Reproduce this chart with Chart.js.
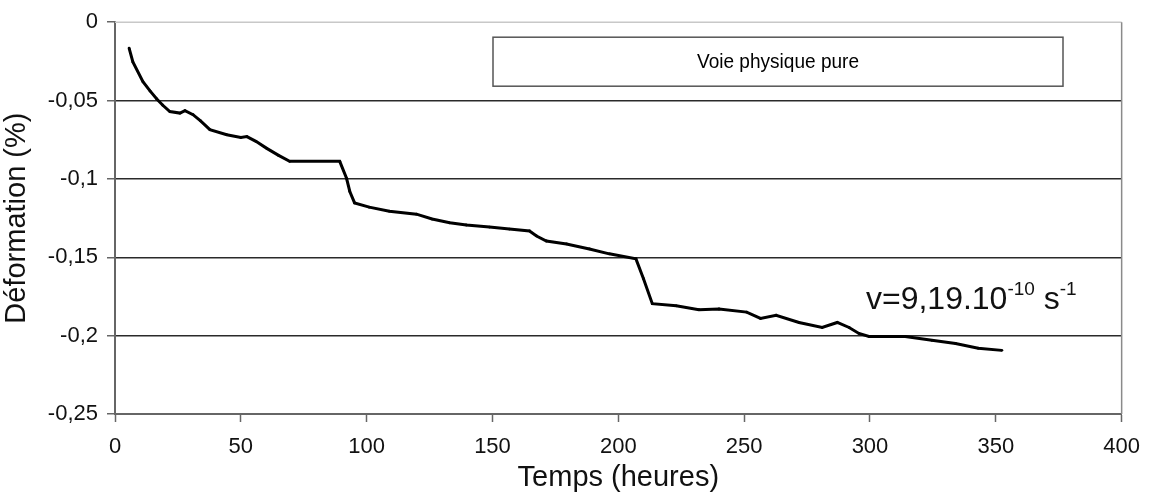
<!DOCTYPE html>
<html lang="fr">
<head>
  <meta charset="UTF-8" />
  <title>Voie physique pure</title>
  <script src="https://cdn.jsdelivr.net/npm/chart.js"></script>
  <style>
    html, body { margin: 0; padding: 0; background: #fff; }
    .chart-wrapper { width: 1152px; height: 500px; }
  </style>
</head>
<body>
<div class="chart-wrapper">
  <canvas id="deformChart" width="1152" height="500"></canvas>
</div>

<script>
  // temps (heures) et déformation (%)
  const temps = [5.6, 7.1, 11.1, 14, 16.6, 19, 21.8, 25.8, 27.8, 31, 34, 37.7, 44.4, 50, 52.4, 56, 60.3, 65, 69.4,
    89.3, 92, 93.3, 95.2, 101, 109, 119.8, 126, 133, 139.6, 148.8, 156.7, 164.7, 167.5, 171.4, 179.4, 188.5,
    196.4, 207, 210, 213.5, 223, 232, 240, 251, 256.5, 262.7, 271.8, 281, 287, 291.7, 295.6, 299.6, 314,
    324.6, 334, 343, 352.4];
  const deformation = [-0.0165, -0.0254, -0.038, -0.044, -0.049, -0.053, -0.057, -0.058, -0.0565, -0.059, -0.063,
    -0.0686, -0.0718, -0.0735, -0.073, -0.076, -0.0805, -0.085, -0.0888,
    -0.0888, -0.0996, -0.108, -0.1153, -0.118, -0.1206, -0.1225, -0.1256, -0.128, -0.1294, -0.1307, -0.132,
    -0.1332, -0.1364, -0.1396, -0.1415, -0.1447, -0.1478, -0.151, -0.1637, -0.1796, -0.181, -0.1834, -0.183,
    -0.185, -0.189, -0.187, -0.1916, -0.1948, -0.1916, -0.1948, -0.1986, -0.2005, -0.2005,
    -0.203, -0.205, -0.208, -0.2094];
  const yTicks = [0, -0.05, -0.1, -0.15, -0.2, -0.25];
  const yTickLabels = ['0', '-0,05', '-0,1', '-0,15', '-0,2', '-0,25'];
  const xTicks = [0, 50, 100, 150, 200, 250, 300, 350, 400];
  const legendText = 'Voie physique pure';

  const police = "'Liberation Sans', Arial, sans-serif";

  const points = temps.map((t, i) => ({ x: t, y: deformation[i] }));

  // cadre gris, boîte de légende et vitesse
  const decorPlugin = {
    id: 'decor',
    beforeDatasetsDraw(chart) {
      const { ctx, chartArea: a } = chart;
      ctx.save();
      ctx.strokeStyle = '#c8c8c8';
      ctx.lineWidth = 1.5;
      ctx.beginPath();
      ctx.moveTo(a.left, a.top);
      ctx.lineTo(a.right, a.top);
      ctx.stroke();
      ctx.strokeStyle = '#8a8a8a';
      ctx.beginPath();
      ctx.moveTo(a.right, a.top);
      ctx.lineTo(a.right, a.bottom);
      ctx.stroke();
      ctx.restore();
    },
    afterDatasetsDraw(chart) {
      const { ctx, chartArea: a, scales } = chart;
      ctx.save();
      // boîte
      const bx = a.left + 378, by = a.top + 15, bw = 570, bh = 49;
      ctx.fillStyle = '#fff';
      ctx.fillRect(bx, by, bw, bh);
      ctx.strokeStyle = '#555';
      ctx.lineWidth = 1.5;
      ctx.strokeRect(bx, by, bw, bh);
      ctx.fillStyle = '#000';
      ctx.font = '20px ' + police;
      ctx.textAlign = 'center';
      ctx.textBaseline = 'middle';
      ctx.fillText(legendText, bx + bw / 2, by + bh / 2 + 1, 162);

      // v=9,19.10^-10 s^-1
      let x = scales.x.getPixelForValue(298.4);
      const y = scales.y.getPixelForValue(-0.1827);
      ctx.fillStyle = '#111';
      ctx.textAlign = 'left';
      ctx.textBaseline = 'alphabetic';
      const parts = [['v=9,19.10', 32, 0], ['-10', 19, 14], [' s', 32, 0], ['-1', 19, 14]];
      parts.forEach(([txt, size, rise]) => {
        ctx.font = size + 'px ' + police;
        ctx.fillText(txt, x, y - rise);
        x += ctx.measureText(txt).width;
      });
      ctx.restore();
    }
  };

  new Chart(document.getElementById('deformChart'), {
    type: 'line',
    data: {
      datasets: [{
        data: points,
        borderColor: '#000',
        borderWidth: 3,
        pointRadius: 1.4,
        pointBackgroundColor: '#000',
        pointBorderWidth: 0,
        tension: 0,
        fill: false
      }]
    },
    options: {
      responsive: false,
      animation: false,
      devicePixelRatio: 1,
      layout: { padding: { top: 20, right: 29, left: 0, bottom: 0 } },
      plugins: { legend: { display: false }, tooltip: { enabled: false } },
      scales: {
        x: {
          type: 'linear',
          min: 0,
          max: 400,
          afterBuildTicks: s => { s.ticks = xTicks.map(v => ({ value: v })); },
          afterFit: s => { s.height = 86; },
          grid: { drawOnChartArea: false, drawTicks: true, tickLength: 8, tickColor: '#666', tickWidth: 1.5 },
          border: { color: '#666', width: 2 },
          ticks: { color: '#111', font: { size: 22, family: police }, padding: 12, maxRotation: 0 },
          title: { display: true, text: 'Temps (heures)', color: '#111', font: { size: 29, family: police }, padding: { top: 0, bottom: 5 } }
        },
        y: {
          min: -0.25,
          max: 0,
          afterBuildTicks: s => { s.ticks = yTicks.map(v => ({ value: v })); },
          afterFit: s => { s.width = 115; },
          grid: {
            color: c => (c.tick && c.tick.value === 0) ? 'rgba(0,0,0,0)' : '#2a2a2a',
            lineWidth: 1.5,
            drawTicks: true,
            tickLength: 8,
            tickColor: '#666'
          },
          border: { color: '#666', width: 2 },
          ticks: {
            color: '#111',
            font: { size: 22, family: police },
            padding: 9,
            callback: v => {
              const i = yTicks.findIndex(t => Math.abs(t - v) < 1e-9);
              return i >= 0 ? yTickLabels[i] : '';
            }
          },
          title: { display: true, text: 'Déformation (%)', color: '#111', font: { size: 29, family: police }, padding: { top: 0, bottom: 2 } }
        }
      }
    },
    plugins: [decorPlugin]
  });
</script>
</body>
</html>
